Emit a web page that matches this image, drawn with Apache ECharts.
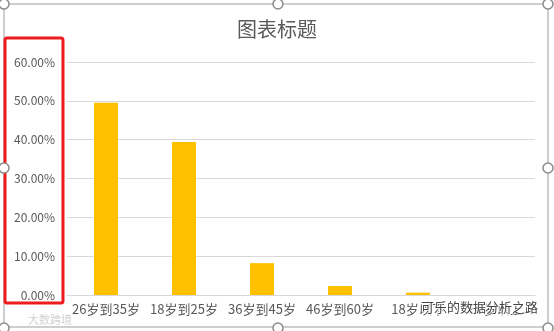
<!DOCTYPE html>
<html>
<head>
<meta charset="utf-8">
<script src="https://cdn.jsdelivr.net/npm/echarts@6/dist/echarts.min.js"></script>
<style>html,body{margin:0;padding:0;background:#fff;}#c{width:554px;height:331px;}</style>
</head>
<body>
<div id="c"></div>
<script>
const titleText = '图表标题';
const categories = ['26岁到35岁', '18岁到25岁', '36岁到45岁', '46岁到60岁', '18岁以下', '60岁以上'];
const values = [0.495, 0.394, 0.082, 0.023, 0.006, 0.0];
const yMin = 0, yMax = 0.6, yStep = 0.1;

const chart = echarts.init(document.getElementById('c'), null, {renderer: 'canvas'});
const font = '"Noto Sans CJK SC", "Microsoft YaHei", sans-serif';
const handle = (x, y) => ({type: 'circle', shape: {cx: x, cy: y, r: 5}, style: {fill: '#fff', stroke: '#8c8c8c', lineWidth: 1.5}, z: 20});
chart.setOption({
  animation: false,
  backgroundColor: '#fff',
  title: {text: titleText, left: 'center', top: 14, textStyle: {fontFamily: font, fontSize: 20, fontWeight: 'normal', color: '#595959'}},
  grid: {left: 67, right: 19, top: 62, bottom: 36},
  xAxis: {
    type: 'category', data: categories,
    axisLine: {lineStyle: {color: '#d9d9d9'}},
    axisTick: {show: false},
    axisLabel: {fontFamily: font, fontSize: 13, color: '#595959', margin: 8, interval: 0}
  },
  yAxis: {
    type: 'value', min: yMin, max: yMax, interval: yStep,
    axisLine: {show: false}, axisTick: {show: false},
    splitLine: {lineStyle: {color: '#d9d9d9'}},
    axisLabel: {fontFamily: font, fontSize: 12, color: '#595959', margin: 12, formatter: v => (v * 100).toFixed(2) + '%'}
  },
  series: [{type: 'bar', data: values, barWidth: 24, itemStyle: {color: '#ffc000'}}],
  graphic: [
    {type: 'rect', shape: {x: 4, y: 4, width: 544, height: 323}, style: {fill: null, stroke: '#bfbfbf', lineWidth: 1.5}, z: 10},
    {type: 'rect', shape: {x: 5, y: 38, width: 58, height: 265, r: 2}, style: {fill: null, stroke: '#ee1c1c', lineWidth: 3}, z: 15},
    handle(4, 4), handle(278, 4), handle(548, 4),
    handle(4, 168), handle(548, 168),
    handle(4, 328), handle(278, 328), handle(548, 328),
    {type: 'text', left: 420, top: 300, style: {text: '可乐的数据分析之路', font: '13px ' + font, fill: '#444', stroke: 'rgba(255,255,255,0.8)', lineWidth: 2}, z: 30},
    {type: 'text', left: 28, top: 314, style: {text: '大数跨境', font: '11px ' + font, fill: '#d0d0d0'}, z: 30}
  ]
});
</script>
</body>
</html>
